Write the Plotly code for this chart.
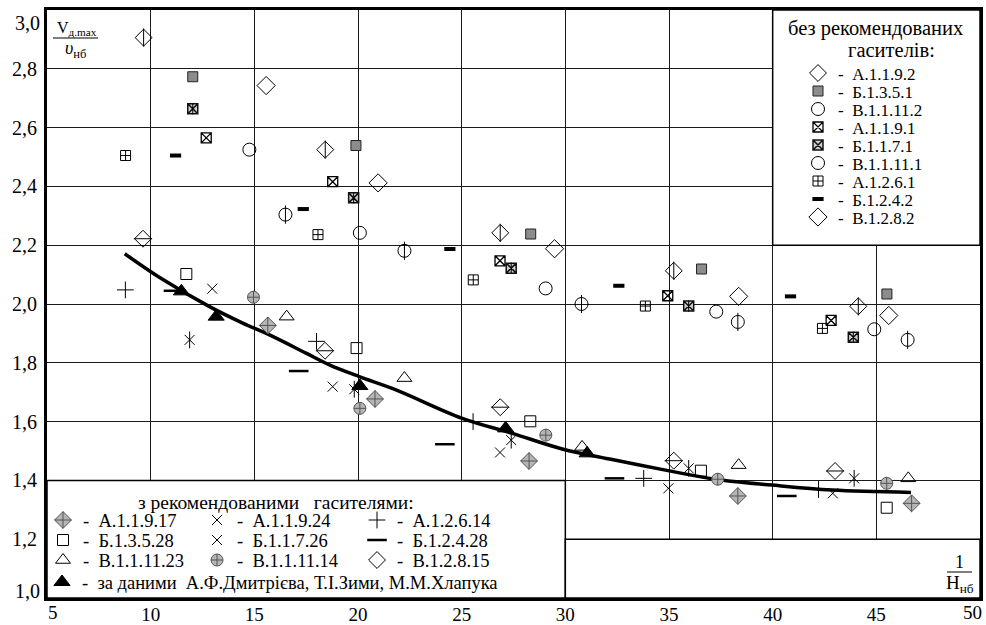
import plotly.graph_objects as go

FONT = "Liberation Serif"

# ---------------- data: without recommended dampers ----------------
a1192_x = [9.66, 18.42, 26.86, 35.23, 44.13]
a1192_y = [2.906, 2.525, 2.242, 2.113, 1.992]
b1351_x = [12.03, 19.90, 28.33, 36.57, 45.51]
b1351_y = [2.773, 2.539, 2.238, 2.119, 2.034]
v11112_x = [16.50, 22.24, 30.78, 38.32, 46.51]
v11112_y = [2.304, 2.181, 2.000, 1.939, 1.878]
a1191_x = [12.68, 18.78, 26.85, 34.94, 42.82]
a1191_y = [2.565, 2.416, 2.147, 2.028, 1.944]
b1171_x = [12.03, 19.79, 27.39, 35.95, 43.89]
b1171_y = [2.664, 2.361, 2.122, 1.993, 1.887]
v11111_x = [14.76, 20.09, 29.05, 37.28, 44.90]
v11111_y = [2.525, 2.242, 2.053, 1.974, 1.914]
a1261_x = [8.79, 18.07, 25.56, 33.86, 42.40]
a1261_y = [2.505, 2.236, 2.082, 1.993, 1.917]
b1242_x = [11.20, 17.36, 24.43, 32.58, 40.86]
b1242_y = [2.505, 2.323, 2.187, 2.062, 2.026]
v1282_x = [15.57, 20.97, 29.48, 38.36, 45.60]
v1282_y = [2.743, 2.412, 2.188, 2.026, 1.961]

# ---------------- data: with recommended dampers ----------------
a11917_x = [15.65, 20.82, 28.25, 38.32, 46.70]
a11917_y = [1.927, 1.677, 1.466, 1.347, 1.322]
a11924_x = [12.97, 18.78, 26.85, 34.97, 42.90]
a11924_y = [2.052, 1.719, 1.495, 1.373, 1.356]
a12614_x = [8.78, 18.00, 25.55, 33.78, 42.21]
a12614_y = [2.048, 1.873, 1.600, 1.407, 1.369]
b13528_x = [11.72, 19.93, 28.31, 36.54, 45.50]
b13528_y = [2.102, 1.850, 1.601, 1.433, 1.307]
b11726_x = [11.88, 19.82, 27.39, 35.95, 43.93]
b11726_y = [1.878, 1.710, 1.537, 1.441, 1.407]
b12428_x = [11.10, 17.14, 24.19, 32.37, 40.68]
b12428_y = [2.045, 1.772, 1.523, 1.407, 1.347]
v111123_x = [16.56, 22.24, 30.81, 38.36, 46.54]
v111123_y = [1.957, 1.748, 1.514, 1.452, 1.407]
v111114_x = [14.96, 20.09, 29.06, 37.35, 45.50]
v111114_y = [2.023, 1.645, 1.554, 1.404, 1.390]
v12815_x = [9.63, 18.41, 26.86, 35.23, 43.01]
v12815_y = [2.222, 1.841, 1.649, 1.467, 1.432]
dmitr_x = [11.48, 13.16, 20.09, 27.12, 31.05]
dmitr_y = [2.043, 1.957, 1.721, 1.577, 1.492]

# approximating curve
curve_x = [8.75, 10.59, 12.84, 14.44, 15.73, 17.49, 18.62, 20.06, 21.83, 25.03,
           27.44, 29.85, 32.26, 34.83, 37.23, 39.96, 42.85, 46.67]
curve_y = [2.171, 2.083, 1.991, 1.935, 1.895, 1.833, 1.793, 1.753, 1.708, 1.611,
           1.560, 1.507, 1.471, 1.435, 1.404, 1.384, 1.367, 1.359]

x_ticks = [5, 10, 15, 20, 25, 30, 35, 40, 45, 50]
y_ticks = [1.0, 1.2, 1.4, 1.6, 1.8, 2.0, 2.2, 2.4, 2.6, 2.8, 3.0]

W, H = 986, 625
ML, MR, MT, MB = 47, 6, 10, 27
PW, PH = W - ML - MR, H - MT - MB


def px(xp):
    return (xp - ML) / PW


def py(yp):
    return (H - MB - yp) / PH


fig = go.Figure()
fig.add_trace(go.Scatter(x=curve_x, y=curve_y, mode="lines",
                         line=dict(color="black", width=3.5, shape="spline", smoothing=1.0),
                         showlegend=False, hoverinfo="skip"))

legends = {}
counter = [0]


def add(name, x, y, symbol, size, pos, fsize, color="black", lcolor="black", lw=1.0,
        overlay=None, osize=None):
    counter[0] += 1
    lid = "legend" if counter[0] == 1 else f"legend{counter[0]}"
    sx, sy = pos
    centre = 5 + (1.3 * fsize + 3) / 2   # offset from legend top to item centre
    legends[lid] = dict(x=px(sx - 20), y=py(sy - centre), xanchor="left", yanchor="top",
                        bgcolor="rgba(0,0,0,0)", borderwidth=0, itemwidth=30,
                        font=dict(family=FONT, size=fsize, color="black"))
    fig.add_trace(go.Scatter(
        x=x, y=y, mode="markers", name="-\u00a0\u00a0" + name, legend=lid,
        marker=dict(symbol=symbol, size=size, color=color,
                    line=dict(color=lcolor, width=lw))))
    if overlay:
        fig.add_trace(go.Scatter(
            x=x, y=y, mode="markers", showlegend=False, hoverinfo="skip",
            marker=dict(symbol=overlay, size=osize or size, color="black",
                        line=dict(color="black", width=1))))


# upper-right legend rows (symbol centre in pixels)
UX, UF = 818, 17
UY = [73 + 18 * i for i in range(9)]
add("А.1.1.9.2", a1192_x, a1192_y, "diamond-open", 13, (UX, UY[0]), UF, overlay="line-ns-open", osize=13)
add("Б.1.3.5.1", b1351_x, b1351_y, "square", 10, (UX, UY[1]), UF, color="#8c8c8c", lcolor="#222")
add("В.1.1.11.2", v11112_x, v11112_y, "circle-open", 13, (UX, UY[2]), UF, overlay="line-ns-open", osize=13)
add("А.1.1.9.1", a1191_x, a1191_y, "square-x-open", 10, (UX, UY[3]), UF, lw=1.3)
add("Б.1.1.7.1", b1171_x, b1171_y, "square-x", 10, (UX, UY[4]), UF, color="#d0d0d0", lcolor="#111",
    lw=1.5, overlay="line-ns-open", osize=8)
add("В.1.1.11.1", v11111_x, v11111_y, "circle-open", 13, (UX, UY[5]), UF)
add("А.1.2.6.1", a1261_x, a1261_y, "square-cross-open", 10, (UX, UY[6]), UF)
add("Б.1.2.4.2", b1242_x, b1242_y, "line-ew-open", 8, (UX, UY[7]), UF, lw=4)
add("В.1.2.8.2", v1282_x, v1282_y, "diamond-open", 14, (UX, UY[8]), UF)

# lower-left legend grid
CX = [63, 217, 377]
RY = [520, 540, 560]
BF = 18.5
add("А.1.1.9.17", a11917_x, a11917_y, "diamond-cross", 13, (CX[0], RY[0]), BF, color="#b5b5b5", lcolor="#555")
add("Б.1.3.5.28", b13528_x, b13528_y, "square-open", 11, (CX[0], RY[1]), BF)
add("В.1.1.11.23", v111123_x, v111123_y, "triangle-up-open", 13, (CX[0], RY[2]), BF)
add("А.1.1.9.24", a11924_x, a11924_y, "x-thin-open", 10, (CX[1], RY[0]), BF)
add("Б.1.1.7.26", b11726_x, b11726_y, "x-thin-open", 10, (CX[1], RY[1]), BF, overlay="line-ns-open", osize=12)
add("В.1.1.11.14", v111114_x, v111114_y, "circle-cross", 12, (CX[1], RY[2]), BF, color="#b5b5b5", lcolor="#555")
add("А.1.2.6.14", a12614_x, a12614_y, "cross-thin-open", 12, (CX[2], RY[0]), BF)
add("Б.1.2.4.28", b12428_x, b12428_y, "line-ew-open", 14, (CX[2], RY[1]), BF, lw=2.5)
add("В.1.2.8.15", v12815_x, v12815_y, "diamond-open", 13, (CX[2], RY[2]), BF, overlay="line-ew-open", osize=13)
add("за даними  А.Ф.Дмитрієва, Т.І.Зими, М.М.Хлапука".replace("  ", "\u00a0\u00a0"),
    dmitr_x, dmitr_y, "triangle-up", 14, (62, 582), BF)


def fmt(v):
    return f"{v:.1f}".replace(".", ",")


# inner ticks are labelled by the axes; the end labels are set inward as in the original
y_inner = y_ticks[1:-1]
x_inner = x_ticks[1:-1]

fig.update_layout(
    width=W, height=H,
    margin=dict(l=ML, r=MR, t=MT, b=MB, pad=0, autoexpand=False),
    paper_bgcolor="white", plot_bgcolor="white",
    font=dict(family=FONT, color="black", size=16),
    xaxis=dict(range=[x_ticks[0], x_ticks[-1]], tickvals=x_inner, ticktext=[str(v) for v in x_inner],
               showgrid=True, gridcolor="#1a1a1a", gridwidth=1, automargin=False,
               zeroline=False, showline=True, linecolor="black", linewidth=3, mirror=True,
               ticks="", ticklabelstandoff=-3, tickfont=dict(family=FONT, size=19)),
    yaxis=dict(range=[y_ticks[0], y_ticks[-1]], tickvals=y_inner, ticktext=[fmt(v) for v in y_inner],
               showgrid=True, gridcolor="#1a1a1a", gridwidth=1, zeroline=False, showline=True,
               automargin=False, linecolor="black", linewidth=3, mirror=True, ticks="",
               ticklabelstandoff=3, tickfont=dict(family=FONT, size=20)),
    **legends,
)

# white boxes hiding the grid where legends / labels sit
for x0, x1, y0, y1 in [(40, 50, 2.2, 3.0), (5, 30, 1.0, 1.4), (30, 50, 1.0, 1.2)]:
    fig.add_shape(type="rect", xref="x", yref="y", x0=x0, x1=x1, y0=y0, y1=y1,
                  fillcolor="white", line=dict(color="black", width=1.5), layer="between")

# end tick labels pulled inward as in the original
for txt, xx, yy, xa, fs in [(fmt(y_ticks[-1]), 41, 22.5, "right", 20), (fmt(y_ticks[0]), 41, 591, "right", 20),
                            (str(x_ticks[0]), 52.5, 612, "center", 19), (str(x_ticks[-1]), 972, 612, "center", 19)]:
    fig.add_annotation(xref="paper", yref="paper", x=px(xx), y=py(yy), text=txt, showarrow=False,
                       font=dict(family=FONT, size=fs), xanchor=xa, yanchor="middle", borderpad=0)

# y-axis label fraction
fig.add_annotation(xref="paper", yref="paper", x=px(76.5), y=py(29), text="V<sub>д.max</sub>",
                   showarrow=False, font=dict(family=FONT, size=16), xanchor="center", yanchor="middle")
fig.add_shape(type="line", xref="paper", yref="paper", x0=px(53), x1=px(98), y0=py(38), y1=py(38),
              line=dict(color="black", width=1), layer="above")
fig.add_annotation(xref="paper", yref="paper", x=px(75), y=py(49), text="<i>υ</i><sub>нб</sub>",
                   showarrow=False, font=dict(family=FONT, size=18), xanchor="center", yanchor="middle")

# x-axis label fraction
fig.add_annotation(xref="paper", yref="paper", x=px(959.5), y=py(562), text="1",
                   showarrow=False, font=dict(family=FONT, size=18), xanchor="center", yanchor="middle")
fig.add_shape(type="line", xref="paper", yref="paper", x0=px(947), x1=px(972), y0=py(572), y1=py(572),
              line=dict(color="black", width=1), layer="above")
fig.add_annotation(xref="paper", yref="paper", x=px(960), y=py(584), text="H<sub>нб</sub>",
                   showarrow=False, font=dict(family=FONT, size=19), xanchor="center", yanchor="middle")

# legend titles
fig.add_annotation(xref="paper", yref="paper", x=px(875), y=py(29), text="без рекомендованих",
                   showarrow=False, font=dict(family=FONT, size=20.5), xanchor="center", yanchor="middle")
fig.add_annotation(xref="paper", yref="paper", x=px(891), y=py(50), text="гасителів:",
                   showarrow=False, font=dict(family=FONT, size=20.5), xanchor="center", yanchor="middle")
fig.add_annotation(xref="paper", yref="paper", x=px(276), y=py(502),
                   text="з рекомендованими\u00a0\u00a0\u00a0гасителями:", showarrow=False,
                   font=dict(family=FONT, size=19.5), xanchor="center", yanchor="middle")

# remove the browser's default page margin so the figure sits at the window's corner
fig.write_html("out.html", config={"displayModeBar": False},
               post_script="document.body.style.margin='0';")
